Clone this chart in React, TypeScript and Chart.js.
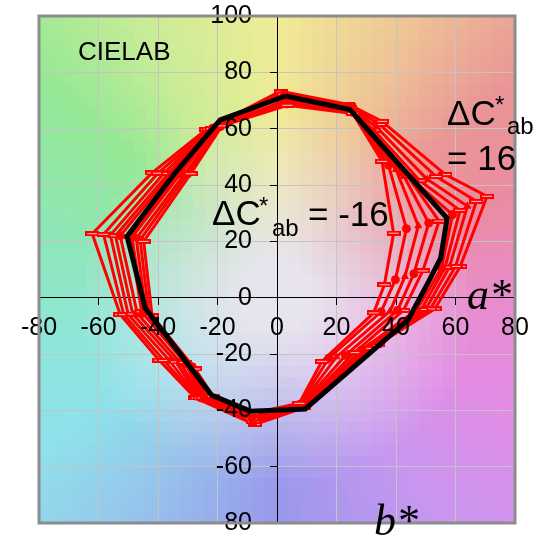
import React, { useEffect, useRef } from "react";
import { Chart, registerables } from "chart.js";

Chart.register(...registerables);

// Axis tick values
const aTicks = [-80, -60, -40, -20, 0, 20, 40, 60, 80];
const bTicks = [-80, -60, -40, -20, 0, 20, 40, 60, 80, 100];

// Reference boundary, ΔC*ab = 0 (a*, b* pairs, closed)
const baseA = [2.8, 24.5, 57.2, 55, 51, 44, 9.5, -9, -22, -44.3, -50.4, -34.5, -19.1, 2.8];
const baseB = [71.6, 66.8, 28.2, 14, 5.8, -8, -39.5, -40.3, -34.6, -3.7, 21.8, 44, 63.1, 71.6];

// Chroma-shifted boundaries
const shifts = [-16, -12, -8, -4, -2, 2, 4, 8, 12, 16];

const aM16 = [3.5, 25.5, 35.3, 39.2, 36.1, 32.5, 15.1, 7.5, -8, -21.5, -27.5, -42, -44.8, -29, -18.5, 3.5];
const bM16 = [68.3, 65.4, 48.4, 22.9, 4.6, -5.4, -22.6, -37.5, -41, -35, -25.3, -6.5, 20, 44, 61, 68.3];

const aM12 = [3.3, 25.3, 37.5, 43.5, 39.8, 35, 17.4, 7.7, -8, -22.5, -28.5, -43, -46, -30, -19, 3.3];
const bM12 = [68.8, 65.8, 47, 24.5, 6.4, -5, -21.5, -37.8, -41.5, -35.3, -24.5, -6.3, 20.5, 44, 60.8, 68.8];

const aM8 = [3.2, 25.1, 40, 47.5, 43, 38, 20, 8, -8, -23.5, -29.5, -44, -47.3, -31, -19.5, 3.2];
const bM8 = [69.3, 66.1, 45.5, 25.5, 7.5, -4.8, -21, -38, -42, -35.5, -24, -6, 21, 44, 60.6, 69.3];

const aM4 = [3, 25, 42, 51, 46, 40.5, 23, 8.2, -8.5, -24.5, -30.5, -45, -48.7, -32.5, -20.5, 3];
const bM4 = [69.8, 66.4, 44.5, 26.5, 8.5, -4.5, -20.5, -38.2, -42.5, -35.6, -23.5, -5.5, 21.5, 44, 60.4, 69.8];

const aM2 = [3, 24.8, 44, 54.5, 49, 42.5, 26, 8.5, -8.5, -25, -31, -45.5, -49.5, -33.5, -21, 3];
const bM2 = [70.3, 66.6, 43, 27.2, 9.5, -4.5, -19.5, -38.5, -43, -35.6, -23, -5, 21.8, 44, 60.2, 70.3];

const aP2 = [2.5, 24.5, 32, 46.5, 59, 55.3, 47, 28.5, 8.7, -8, -25.5, -32.5, -47, -52.7, -35.5, -21.5, 2.5];
const bP2 = [71.8, 67.2, 59, 41, 29.5, 10.5, -4.3, -18.5, -38.7, -43.5, -35.6, -23, -5.5, 22, 44, 60.2, 71.8];

const aP4 = [2.2, 24.4, 32.5, 48, 61.5, 56.5, 48.5, 30, 8.8, -8, -26, -34, -48.5, -54.3, -36.5, -22, 2.2];
const bP4 = [72.2, 67.5, 59.5, 41.5, 31, 10.8, -4.2, -18, -38.8, -44, -35.6, -22.8, -5.8, 22, 44.1, 60, 72.2];

const aP8 = [2, 24.3, 33.5, 50.5, 64, 58, 50, 31.4, 8.9, -8, -26.5, -36, -50, -56, -38, -22.5, 2];
const bP8 = [72.6, 67.8, 60.5, 42, 32.5, 11, -4.1, -17.2, -38.9, -44.5, -35.6, -22.5, -6, 22.2, 44.2, 60, 72.6];

const aP12 = [1.5, 24.2, 34.5, 53.5, 67, 60, 51.5, 33, 9, -7.5, -27, -38, -51.5, -58.3, -40, -23, 1.5];
const bP12 = [73, 68.2, 61.5, 43, 34.2, 11.1, -4, -17, -39, -45, -35.6, -22.3, -6, 22.5, 44.2, 59.8, 73];

const aP16 = [1.2, 24, 35.3, 56.6, 70.6, 61.6, 53, 34, 9, -7.5, -27.5, -39.6, -52.7, -62.1, -42, -23.8, 1.2];
const bP16 = [73.3, 68.6, 62.6, 43.7, 36, 11.1, -4, -16.5, -39, -45, -35.6, -22.2, -6, 22.7, 44.3, 59.7, 73.3];

const shiftedA = [aM16, aM12, aM8, aM4, aM2, aP2, aP4, aP8, aP12, aP16];
const shiftedB = [bM16, bM12, bM8, bM4, bM2, bP2, bP4, bP8, bP12, bP16];

// Hue stops used to paint the a*b* plane behind the plot
const hueStops: [number, number[]][] = [
  [0, [232, 140, 205]],
  [25, [234, 140, 160]],
  [45, [234, 150, 150]],
  [65, [238, 195, 150]],
  [90, [240, 236, 150]],
  [115, [200, 236, 150]],
  [135, [148, 232, 150]],
  [165, [142, 230, 185]],
  [190, [142, 230, 215]],
  [215, [142, 225, 235]],
  [235, [150, 200, 235]],
  [270, [152, 152, 236]],
  [305, [200, 150, 240]],
  [335, [228, 140, 228]],
  [360, [232, 140, 205]],
];
const neutral = [231, 228, 238];

function planeColor(a: number, b: number): string {
  let h = (Math.atan2(b, a) * 180) / Math.PI;
  if (h < 0) h += 360;
  let i = 0;
  while (i < hueStops.length - 2 && hueStops[i + 1][0] < h) i++;
  const [h0, c0] = hueStops[i];
  const [h1, c1] = hueStops[i + 1];
  const f = (h - h0) / (h1 - h0);
  const hue = c0.map((v, k) => v + (c1[k] - v) * f);
  const r = Math.hypot(a, b);
  const t = Math.max(0, Math.min(1, (r - 12) / 55));
  const c = neutral.map((v, k) => Math.round(v + (hue[k] - v) * t));
  return `rgb(${c[0]},${c[1]},${c[2]})`;
}

const planeBackground = {
  id: "planeBackground",
  beforeDraw(chart: any) {
    const { ctx, chartArea: ca, scales } = chart;
    const x = scales.x;
    const y = scales.y;
    const step = 4;
    ctx.save();
    ctx.beginPath();
    ctx.rect(ca.left, ca.top, ca.right - ca.left, ca.bottom - ca.top);
    ctx.clip();
    for (let a = x.min; a < x.max; a += step) {
      for (let b = y.min; b < y.max; b += step) {
        const x0 = Math.floor(x.getPixelForValue(a));
        const x1 = Math.ceil(x.getPixelForValue(a + step));
        const y0 = Math.floor(y.getPixelForValue(b + step));
        const y1 = Math.ceil(y.getPixelForValue(b));
        ctx.fillStyle = planeColor(a + step / 2, b + step / 2);
        ctx.fillRect(x0, y0, x1 - x0, y1 - y0);
      }
    }
    ctx.restore();
  },
};

const sans = (s: number) => `${s}px "Liberation Sans", Arial, sans-serif`;
const TICK_SIZE = 25;

// b* tick labels sit to the left of the vertical axis, clear of its tick marks
const bAxisLabels = {
  id: "bAxisLabels",
  afterDatasetsDraw(chart: any) {
    const { ctx, scales } = chart;
    const axisX = scales.x.getPixelForValue(0);
    const gap = scales.y.options.grid.tickLength + 18;
    ctx.save();
    ctx.font = sans(TICK_SIZE);
    ctx.fillStyle = "#000";
    ctx.textAlign = "right";
    ctx.textBaseline = "middle";
    for (const t of scales.y.ticks) {
      ctx.fillText(String(t.value), axisX - gap, scales.y.getPixelForValue(t.value));
    }
    ctx.restore();
  },
};

const overlay = {
  id: "overlay",
  afterDraw(chart: any) {
    const { ctx, chartArea: ca } = chart;
    ctx.save();
    ctx.strokeStyle = "#8c8c8c";
    ctx.lineWidth = 3;
    ctx.strokeRect(ca.left, ca.top, ca.right - ca.left, ca.bottom - ca.top);

    ctx.fillStyle = "#000";
    ctx.textAlign = "left";
    ctx.textBaseline = "alphabetic";

    ctx.font = sans(26);
    ctx.fillText("CIELAB", 78, 60);

    // ΔC*ab = 16
    ctx.font = sans(35);
    ctx.fillText("\u0394C", 447, 125);
    ctx.font = sans(24);
    ctx.fillText("*", 495, 113);
    ctx.fillText("ab", 507, 134);
    ctx.font = sans(35);
    ctx.fillText("= 16", 447, 170);

    // ΔC*ab = -16
    ctx.font = sans(35);
    ctx.fillText("\u0394C", 212, 225);
    ctx.font = sans(24);
    ctx.fillText("*", 259, 214);
    ctx.fillText("ab", 272, 236);
    ctx.font = sans(35);
    ctx.fillText("= -16", 308, 226);

    ctx.font = 'italic 44px "Liberation Serif", "Times New Roman", serif';
    ctx.fillText("a*", 467, 309);
    ctx.fillText("b*", 374, 535);
    ctx.restore();
  },
};

function dashMarker(): HTMLCanvasElement {
  const c = document.createElement("canvas");
  c.width = 14;
  c.height = 5;
  const g = c.getContext("2d")!;
  g.fillStyle = "#ff0000";
  g.fillRect(0, 0, 14, 5);
  g.fillStyle = "#ffc4c4";
  g.fillRect(2, 2, 10, 1);
  return c;
}

const zeroPadding = (scale: any) => {
  scale.paddingLeft = 0;
  scale.paddingRight = 0;
  scale.paddingTop = 0;
  scale.paddingBottom = 0;
};

export default function App() {
  const canvasRef = useRef<HTMLCanvasElement | null>(null);

  useEffect(() => {
    const canvas = canvasRef.current;
    if (!canvas) return;
    const dash = dashMarker();
    const markerFor: Record<number, any> = {
      [-16]: dash,
      [-12]: "circle",
      [-8]: "triangle",
      [-4]: "circle",
      [-2]: dash,
      [2]: "circle",
      [4]: dash,
      [8]: "triangle",
      [12]: dash,
      [16]: dash,
    };

    const base = {
      label: "\u0394C*ab = 0",
      data: baseA.map((a, i) => ({ x: a, y: baseB[i] })),
      showLine: true,
      borderColor: "#000000",
      borderWidth: 5,
      pointRadius: 0,
      tension: 0,
      order: 0,
    };

    const shifted = shifts.map((dc, s) => ({
      label: `\u0394C*ab = ${dc}`,
      data: shiftedA[s].map((a, i) => ({ x: a, y: shiftedB[s][i] })),
      showLine: true,
      borderColor: "#ff0000",
      borderWidth: 3,
      borderJoinStyle: "round" as const,
      pointStyle: markerFor[dc],
      pointRadius: 4,
      pointBackgroundColor: "#ff0000",
      pointBorderColor: "#ff0000",
      pointBorderWidth: 1,
      tension: 0,
      order: 1,
    }));

    const tickFont = { family: '"Liberation Sans", Arial, sans-serif', size: TICK_SIZE };

    const chart = new Chart(canvas, {
      type: "scatter",
      data: { datasets: [base, ...shifted] as any },
      options: {
        animation: false,
        responsive: true,
        maintainAspectRatio: false,
        devicePixelRatio: 1,
        events: [],
        layout: { padding: { left: 39, right: 31, top: 16, bottom: 14 } },
        plugins: { legend: { display: false }, tooltip: { enabled: false } },
        scales: {
          x: {
            type: "linear",
            min: aTicks[0],
            max: aTicks[aTicks.length - 1],
            position: { y: 0 } as any,
            afterBuildTicks: (scale: any) => {
              scale.ticks = aTicks.map((v) => ({ value: v }));
            },
            afterFit: zeroPadding,
            grid: { color: "#c4c4c4", lineWidth: 1, tickColor: "#000", tickLength: 7, tickWidth: 1 },
            border: { display: true, color: "#000", width: 1 },
            ticks: { font: tickFont, color: "#000", padding: 8, maxRotation: 0, autoSkip: false, z: 1 },
          },
          y: {
            type: "linear",
            min: bTicks[0],
            max: bTicks[bTicks.length - 1],
            position: { x: 0 } as any,
            afterBuildTicks: (scale: any) => {
              scale.ticks = bTicks.map((v) => ({ value: v }));
            },
            afterFit: zeroPadding,
            grid: { color: "#c4c4c4", lineWidth: 1, tickColor: "#000", tickLength: 7, tickWidth: 1 },
            border: { display: true, color: "#000", width: 1 },
            ticks: { display: false },
          },
        },
      },
      plugins: [planeBackground, bAxisLabels, overlay],
    });
    return () => chart.destroy();
  }, []);

  return (
    <div style={{ position: "absolute", left: 0, top: 0, width: 546, height: 537 }}>
      <canvas ref={canvasRef} />
    </div>
  );
}
